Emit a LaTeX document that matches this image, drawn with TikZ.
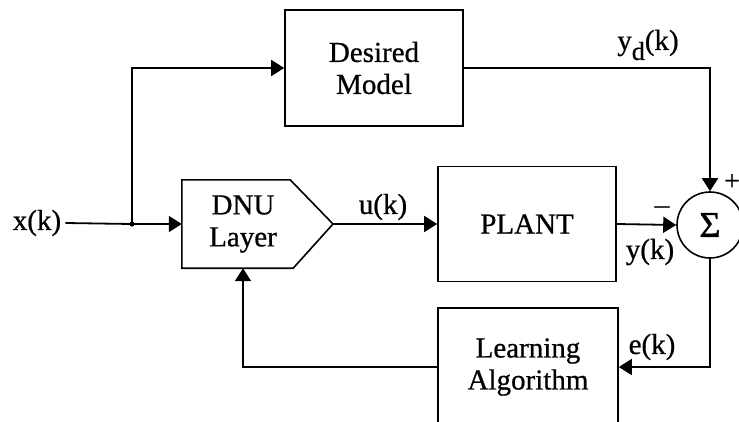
\documentclass[tikz,border=0pt]{standalone}
\usepackage{fontspec}
\setmainfont{Liberation Serif}[FakeBold=0.7]
\usetikzlibrary{arrows.meta,calc}
\begin{document}
\begin{tikzpicture}[x=1pt,y=-1pt,
  txt/.style={font=\fontsize{29pt}{32pt}\selectfont\addfontfeature{FakeBold=0.7}},
  blk/.style={txt, draw, line width=1.6pt, minimum width=178pt, minimum height=116pt, align=center, inner sep=0pt},
  wire/.style={line width=1.8pt},
  arr/.style={wire, -{Triangle[length=13pt,width=16pt]}},
  lbl/.style={txt, inner sep=0pt},
]
\useasboundingbox (0,0) rectangle (739,421);
\clip (0,0) rectangle (739,421);
% blocks
\node[blk] (desired) at (374,68) {Desired\\Model};
\node[blk, minimum height=115pt] (plant) at (527,224) {PLANT};
\node[blk, minimum width=180pt, minimum height=118pt] (learn) at (528,367) {Learning\\Algorithm};
\node[lbl, align=center, minimum width=122pt, minimum height=88pt] (dnu) at (243,224) {DNU\\Layer};
\coordinate (dnutip) at (333,224);
\draw[wire, line width=1.6pt] (dnu.north west) -- ($(dnu.north east)+(-14,0)$) -- (dnutip)
   -- ($(dnu.south east)+(-11,0)$) -- (dnu.south west) -- cycle;
\node[draw, circle, line width=1.6pt, minimum size=66pt, inner sep=0pt,
  font=\fontsize{36pt}{36pt}\selectfont\addfontfeature{FakeBold=1.2}] (sum) at (710,225) {Σ};
% input
\node[lbl] (xk) at (37,223) {x(k)};
\coordinate (j) at (132,224);
\draw[wire] ([xshift=4pt]xk.east) -- (j);
\draw[arr] (j) -- (dnu.west);
\fill (j) circle (2.6pt);
\draw[arr] (j) |- (desired.west);
\draw[arr] (desired.east) -| (sum.north);
\draw[arr] (dnutip) -- (plant.west);
\draw[arr] (plant.east) -- (sum.west);
\draw[arr] (sum.south) |- (learn.east);
\draw[arr] (learn.west) -| (dnu.south);
% labels
\node[lbl] (uk) at (383,207) {u(k)};
\node[lbl] (ydk) at (648,45) {y\raisebox{-10pt}{\fontsize{26pt}{26pt}\selectfont\addfontfeature{FakeBold=0.7}d}(k)};
\node[lbl] (minus) at (662,210) {–};
\node[inner sep=0pt, font=\fontsize{28pt}{28pt}\selectfont\addfontfeature{FakeBold=0.7}] (plus) at (732,182) {+};
\node[lbl] (yk) at (650,252) {y(k)};
\node[lbl] (ek) at (652,347) {e(k)};
\end{tikzpicture}
\end{document}
